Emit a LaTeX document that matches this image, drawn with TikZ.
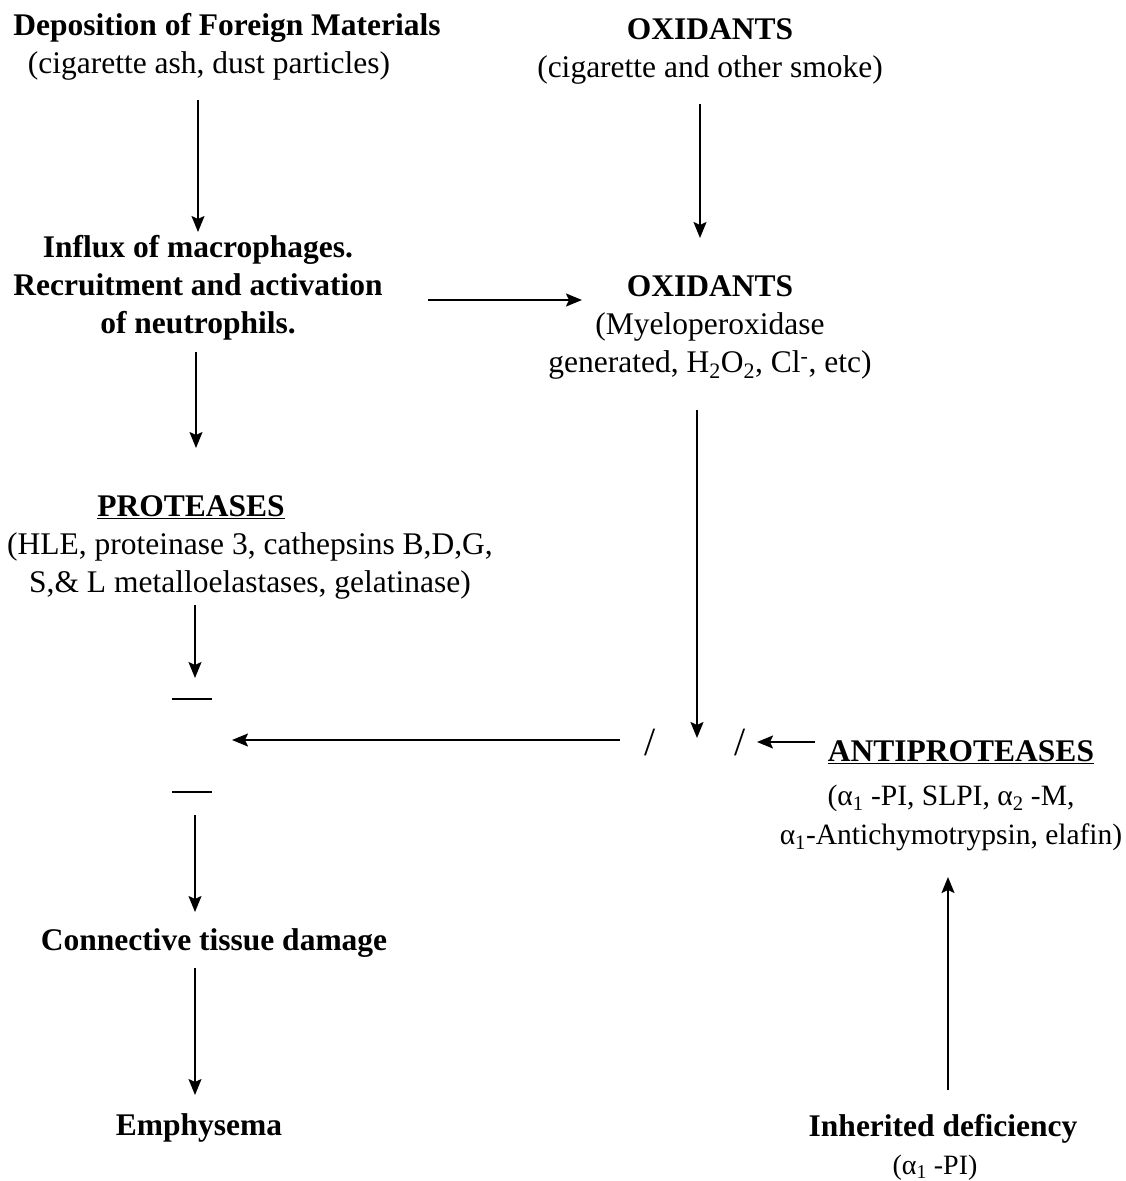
\documentclass[tikz,border=0pt]{standalone}
\usepackage{fontspec}
\setmainfont{Liberation Serif}
\usetikzlibrary{arrows.meta,calc}
\begin{document}
\begin{tikzpicture}[x=1pt,y=-1pt,
  txt/.style={inner sep=0pt,align=center,font=\fontsize{31.5}{38}\selectfont},
  bt/.style={txt,font=\fontsize{31.5}{38}\selectfont\bfseries},
  arr/.style={line width=1.8pt,-{Stealth[length=16pt,width=13pt,inset=3pt]}},
  slashmark/.style={inner sep=0pt,font=\fontsize{40}{40}\selectfont},
  dashmark/.style={inner sep=0pt}]
\useasboundingbox (0,0) rectangle (1125,1181);
% nodes
\node[txt] (dep) at (227,47) {\textbf{Deposition of Foreign Materials}\\\hspace*{-36pt}(cigarette ash, dust particles)};
\node[txt] (ox1) at (710,51) {\textbf{OXIDANTS}\\(cigarette and other smoke)};
\node[bt] (infl) at (198,288) {Influx of macrophages.\\Recruitment and activation\\of neutrophils.};
\node[txt] (ox2) at (710,327) {\textbf{OXIDANTS}\\(Myeloperoxidase\\generated, H\textsubscript{2}O\textsubscript{2}, Cl\textsuperscript{-}, etc)};
\node[txt] (prot) at (250,547) {\textbf{\underline{PROTEASES}}\hspace*{118pt}\\(HLE, proteinase 3, cathepsins B,D,G,\\S,\& L metalloelastases, gelatinase)};
\node[dashmark] (d1) at (192,699) {\rule{40pt}{1.8pt}};
\node[dashmark] (d2) at (192,792) {\rule{40pt}{1.8pt}};
\node[slashmark] (s1) at (650,743) {/};
\node[slashmark] (s2) at (740,743) {/};
\node[bt] (antit) at (961,752) {\underline{ANTIPROTEASES}};
\node[txt,font=\fontsize{29.5}{39}\selectfont] (antid) at (951,818) {(α\textsubscript{1} -PI, SLPI, α\textsubscript{2} -M,\\α\textsubscript{1}-Antichymotrypsin, elafin)};
\node[bt] (ctd) at (214,943) {Connective tissue damage};
\node[bt] (emph) at (199,1128) {Emphysema};
\node[txt] (inh) at (943,1147) {\textbf{Inherited deficiency}\\\fontsize{28}{36}\selectfont\hspace*{-16pt}(α\textsubscript{1} -PI)};
\coordinate (eqr) at (232,740);
\coordinate (junc) at (697,738);
% connectors
\draw[arr] ($(dep)+(-29,53)$) -- ($(infl)+(0,-56)$);
\draw[arr] ($(ox1)+(-10,53)$) -- ($(ox2)+(-10,-89)$);
\draw[arr] ($(infl)+(230,12)$) -- ($(ox2)+(-128,-27)$);
\draw[arr] ($(infl)+(-2,64)$) -- ($(prot)+(-54,-99)$);
\draw[arr] ($(prot)+(-55,58)$) -- ($(d1)+(3,-21)$);
\draw[arr] ($(s1)+(-30,-3)$) -- (eqr);
\draw[arr] ($(ox2)+(-13,83)$) -- (junc);
\draw[arr] ($(antit)+(-146,-10)$) -- ($(s2)+(17,-1)$);
\draw[arr] ($(d2)+(3,23)$) -- ($(ctd)+(-19,-31)$);
\draw[arr] ($(ctd)+(-19,25)$) -- ($(emph)+(-4,-33)$);
\draw[arr] ($(inh)+(5,-57)$) -- ($(antid)+(-3,59)$);
\end{tikzpicture}
\end{document}
